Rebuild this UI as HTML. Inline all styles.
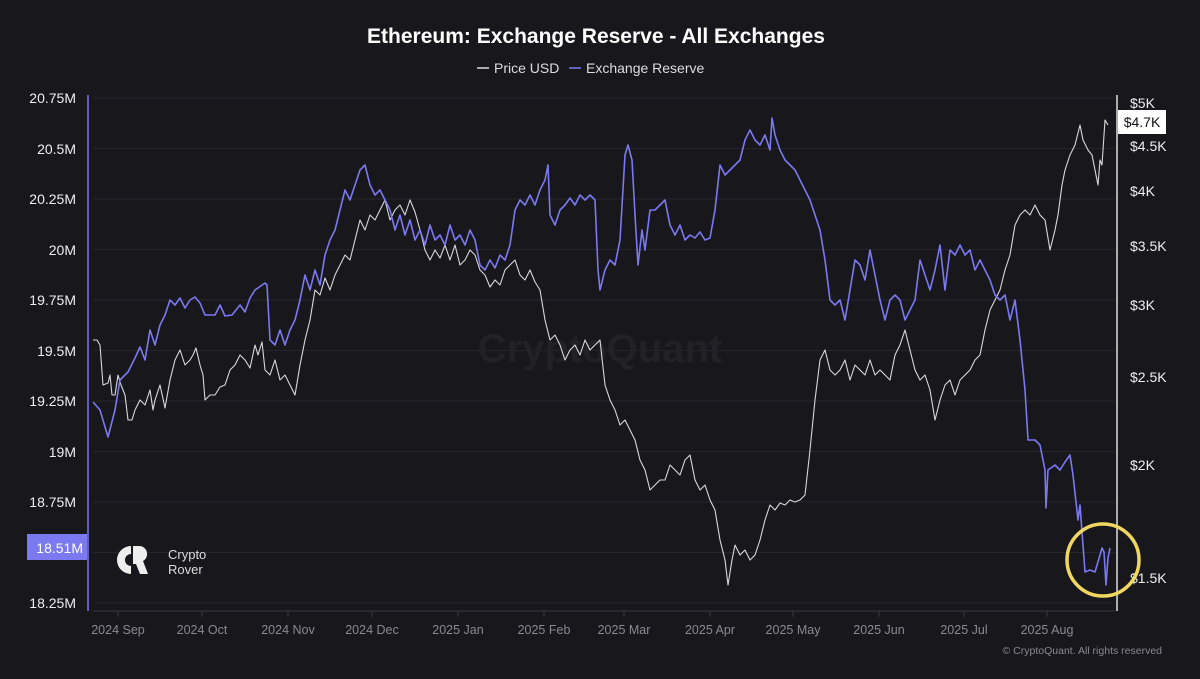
<!DOCTYPE html>
<html><head><meta charset="utf-8"><style>
html,body{margin:0;padding:0;background:#18171c;}
svg{display:block;font-family:"Liberation Sans",sans-serif;}
</style></head><body>
<svg width="1200" height="679" viewBox="0 0 1200 679" xmlns="http://www.w3.org/2000/svg">
<rect width="1200" height="679" fill="#18171c"/>
<text x="596" y="43" text-anchor="middle" fill="#fff" font-size="21" font-weight="bold">Ethereum: Exchange Reserve - All Exchanges</text>
<line x1="477" y1="68" x2="489" y2="68" stroke="#ddd" stroke-width="1.5"/>
<text x="494" y="73" fill="#ddd" font-size="14">Price USD</text>
<line x1="569" y1="68" x2="581" y2="68" stroke="#7b79f0" stroke-width="1.5"/>
<text x="586" y="73" fill="#ddd" font-size="14">Exchange Reserve</text>
<g stroke="#26252b" stroke-width="1">
<line x1="93" y1="98" x2="1115" y2="98"/><line x1="93" y1="148.5" x2="1115" y2="148.5"/>
<line x1="93" y1="199" x2="1115" y2="199"/><line x1="93" y1="249.5" x2="1115" y2="249.5"/>
<line x1="93" y1="300" x2="1115" y2="300"/><line x1="93" y1="350.5" x2="1115" y2="350.5"/>
<line x1="93" y1="401" x2="1115" y2="401"/><line x1="93" y1="451.5" x2="1115" y2="451.5"/>
<line x1="93" y1="502" x2="1115" y2="502"/><line x1="93" y1="552.5" x2="1115" y2="552.5"/>
<line x1="93" y1="603" x2="1115" y2="603"/>
</g>
<line x1="93" y1="611" x2="1115" y2="611" stroke="#3a3940"/>
<g stroke="#3a3940"><line x1="118" y1="611" x2="118" y2="617"/><line x1="202" y1="611" x2="202" y2="617"/><line x1="288" y1="611" x2="288" y2="617"/><line x1="372" y1="611" x2="372" y2="617"/><line x1="458" y1="611" x2="458" y2="617"/><line x1="544" y1="611" x2="544" y2="617"/><line x1="624" y1="611" x2="624" y2="617"/><line x1="710" y1="611" x2="710" y2="617"/><line x1="793" y1="611" x2="793" y2="617"/><line x1="879" y1="611" x2="879" y2="617"/><line x1="964" y1="611" x2="964" y2="617"/><line x1="1047" y1="611" x2="1047" y2="617"/></g>
<text x="600" y="362" text-anchor="middle" fill="#222126" font-size="40" font-weight="bold">CryptoQuant</text>
<g fill="#8a8990" font-size="12.5" text-anchor="middle">
<text x="118" y="634">2024 Sep</text><text x="202" y="634">2024 Oct</text><text x="288" y="634">2024 Nov</text><text x="372" y="634">2024 Dec</text><text x="458" y="634">2025 Jan</text><text x="544" y="634">2025 Feb</text><text x="624" y="634">2025 Mar</text><text x="710" y="634">2025 Apr</text><text x="793" y="634">2025 May</text><text x="879" y="634">2025 Jun</text><text x="964" y="634">2025 Jul</text><text x="1047" y="634">2025 Aug</text>
</g>
<text x="1162" y="654" text-anchor="end" fill="#8a8990" font-size="10.5">© CryptoQuant. All rights reserved</text>
<line x1="88" y1="95" x2="88" y2="611" stroke="#7b79f0" stroke-width="1.5"/>
<g fill="#eee" font-size="14" text-anchor="end">
<text x="76" y="103">20.75M</text><text x="76" y="154">20.5M</text><text x="76" y="204">20.25M</text><text x="76" y="255">20M</text><text x="76" y="305">19.75M</text><text x="76" y="356">19.5M</text><text x="76" y="406">19.25M</text><text x="76" y="457">19M</text><text x="76" y="507">18.75M</text><text x="76" y="608">18.25M</text>
</g>
<rect x="27" y="534" width="60" height="26" fill="#7b79f0"/>
<text x="83" y="553" text-anchor="end" fill="#fff" font-size="14">18.51M</text>
<line x1="1117" y1="95" x2="1117" y2="611" stroke="#ddd" stroke-width="1.5"/>
<g fill="#eee" font-size="14">
<text x="1130" y="108">$5K</text><text x="1130" y="151">$4.5K</text><text x="1130" y="196">$4K</text><text x="1130" y="251">$3.5K</text><text x="1130" y="310">$3K</text><text x="1130" y="382">$2.5K</text><text x="1130" y="470">$2K</text><text x="1130" y="583">$1.5K</text>
</g>
<rect x="1118" y="110" width="48" height="24" fill="#fff"/>
<text x="1142" y="127" text-anchor="middle" fill="#111" font-size="14">$4.7K</text>
<polyline fill="none" stroke="#d8d8dc" stroke-width="1.1" stroke-linejoin="round" points="93,340 97,340 100,345 103,385 108,383 110,375 112,395 115,395 118,375 121,385 125,395 128,420 132,420 135,410 140,400 145,405 150,390 153,410 155,400 160,385 165,408 170,380 175,360 180,350 185,365 190,360 193,355 196,348 200,365 203,375 205,400 210,395 215,395 220,387 225,385 230,370 235,365 240,355 245,360 250,368 255,345 258,355 262,342 265,370 270,375 275,360 280,380 285,375 290,385 295,395 300,365 305,340 310,320 315,290 320,295 325,278 330,290 335,275 340,265 345,255 350,260 355,240 360,220 365,230 370,215 375,220 380,210 385,200 390,220 395,210 400,205 405,215 410,200 415,212 420,230 425,250 430,260 435,250 440,258 445,245 450,260 455,245 460,265 465,260 470,250 475,255 480,270 485,275 490,287 495,280 500,285 505,270 510,265 515,260 520,275 525,280 530,270 535,282 540,290 545,320 550,340 555,335 560,345 565,360 570,350 575,345 580,355 585,340 590,350 595,345 600,340 605,385 610,400 615,410 620,425 625,420 630,430 635,440 640,460 645,470 650,490 655,485 660,480 665,480 670,465 675,470 680,475 685,460 690,455 695,480 700,490 705,485 710,500 715,510 720,540 725,560 728,585 732,560 735,545 740,555 745,550 750,560 755,555 760,540 765,520 770,505 775,510 780,503 785,505 790,500 795,502 800,500 805,495 810,450 815,400 820,360 825,350 830,370 835,375 840,370 845,360 850,380 855,365 860,370 865,375 870,360 875,375 880,370 885,375 890,380 895,355 900,345 905,330 910,350 915,370 920,380 925,375 930,390 935,420 940,400 945,385 950,380 955,395 960,380 965,375 970,370 975,360 980,355 985,330 990,310 995,300 1000,290 1005,270 1010,255 1015,225 1020,215 1025,210 1030,215 1035,205 1040,215 1045,220 1050,250 1055,230 1058,215 1062,185 1065,170 1070,155 1075,145 1080,125 1083,140 1088,150 1092,155 1096,175 1098,185 1100,160 1102,165 1105,120 1108,125"/>
<polyline fill="none" stroke="#7b79f0" stroke-width="1.6" stroke-linejoin="round" points="93,402 100,410 108,437 115,410 120,380 128,372 135,358 140,347 145,360 150,330 155,345 160,325 165,315 170,300 175,305 180,298 185,308 190,300 195,297 200,303 205,315 215,315 220,305 225,316 232,315 240,305 245,312 250,298 255,290 265,283 267,285 270,340 275,345 280,330 285,345 290,330 295,320 300,300 305,275 310,290 315,270 320,285 325,255 330,240 335,230 340,210 345,190 350,200 355,185 360,170 365,165 370,185 375,195 380,190 385,200 390,210 395,230 400,215 405,235 410,220 415,240 420,230 425,245 430,225 435,240 440,235 445,245 450,225 455,240 460,235 465,245 470,230 475,240 480,265 485,270 490,260 495,268 500,255 505,260 510,245 515,210 520,200 525,205 530,195 535,205 540,190 545,180 548,165 550,215 555,225 560,210 565,205 570,198 575,205 580,195 585,200 590,195 595,200 598,270 600,290 605,270 610,260 615,265 620,240 625,155 628,145 632,160 635,215 638,265 642,230 645,250 650,210 655,210 660,205 665,200 670,225 675,235 680,225 685,240 690,235 695,238 700,232 705,240 710,238 715,210 720,165 725,175 730,170 735,165 740,160 745,140 750,130 755,140 760,145 765,135 770,150 772,118 775,135 780,150 785,160 790,165 795,170 800,180 805,190 810,200 815,215 820,230 825,260 830,300 835,305 840,300 845,320 850,290 855,260 860,265 865,280 870,250 875,275 880,300 885,320 890,300 895,295 900,300 905,320 910,310 915,300 920,260 925,275 930,290 935,270 940,245 945,290 950,250 955,255 960,245 965,255 970,250 975,270 980,260 985,270 990,280 995,295 1000,300 1005,295 1010,320 1015,300 1020,340 1025,390 1028,440 1035,440 1040,445 1045,470 1046,508 1048,470 1055,465 1060,470 1065,462 1070,455 1073,475 1078,520 1080,505 1085,572 1090,570 1095,572 1100,555 1102,548 1104,552 1106,585 1108,558 1110,548"/>
<circle cx="1103" cy="560" r="36" fill="none" stroke="#f0d860" stroke-width="3.5"/>
<g transform="translate(117,546)">
<path d="M14,0 A14,14 0 1 0 14,28 L14,20 A6,6 0 1 1 14,8 Z" fill="#eee"/>
<path d="M16,0 L22,0 A8,8 0 0 1 26,15 L31,28 L23,28 L19,18 L16,18 Z" fill="#eee"/>
</g>
<text x="168" y="559" fill="#ddd" font-size="13">Crypto</text>
<text x="168" y="574" fill="#ddd" font-size="13">Rover</text>
</svg>
</body></html>
